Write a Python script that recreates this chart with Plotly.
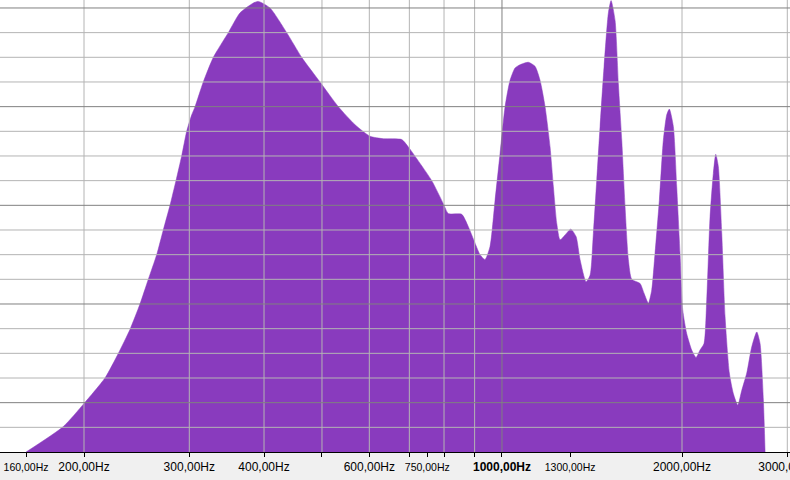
import plotly.graph_objects as go

# Spectrum data (frequency in Hz, level in dB above the plot floor)
freq_hz = [160, 184.7, 200, 216.8, 228.3, 238.7, 248.1, 256.2, 264.6, 271.4,
           278.5, 285.0, 291.3, 297.0, 302.8, 306.7, 316.6, 329.1, 348.6, 364.6,
           383.8, 391.3, 409.3, 436.5, 462.4, 496.2, 532.5, 568.0, 601.7, 633.2,
           679.8, 697.3, 729.4, 763.0, 797.9, 813.4, 856.5, 878.5, 901.4, 919.0,
           936.8, 955.0, 973.6, 992.6, 1011.9, 1031.5, 1051.6, 1072.1, 1106.9, 1135.8,
           1157.9, 1180.4, 1203.4, 1218.8, 1234.8, 1250.6, 1274.9, 1303.2, 1330.1, 1350.7,
           1382.3, 1403.8, 1421.7, 1440.5, 1458.9, 1481.5, 1506.3, 1522.0, 1545.6, 1565.4,
           1586.0, 1606.3, 1626.8, 1648.3, 1701.8, 1728.2, 1757.1, 1780.0, 1802.8, 1832.9,
           1861.3, 1885.8, 1904.8, 1934.4, 1959.6, 1984.7, 2005.4, 2036.6, 2076.2, 2110.9,
           2143.7, 2177.0, 2199.8, 2228.1, 2256.6, 2277.5, 2300.5, 2330.8, 2360.6, 2400.0,
           2437.3, 2479.0, 2517.5, 2566.4, 2616.3, 2667.2, 2701.3, 2736.0, 2754.0]
level_db = [0, 3.1, 5.9, 9.0, 12.0, 14.9, 18.0, 21.0, 24.0, 27.0,
            30.0, 33.0, 36.0, 39.0, 41.0, 42.0, 45.0, 48.0, 51.0, 53.4,
            54.6, 54.8, 54.0, 51.0, 48.0, 45.0, 42.0, 39.8, 38.4, 38.1,
            38.0, 37.1, 35.1, 33.0, 30.2, 29.0, 28.9, 27.4, 25.4, 24.0,
            23.4, 25.0, 30.6, 36.3, 42.0, 45.2, 46.7, 47.1, 47.4, 46.9,
            45.2, 42.0, 37.1, 32.3, 27.8, 25.8, 26.4, 27.1, 26.2, 23.4,
            20.7, 21.5, 26.6, 33.1, 39.6, 46.9, 53.4, 54.9, 52.5, 44.8,
            37.9, 29.8, 23.4, 21.0, 20.5, 19.3, 18.1, 19.7, 24.2, 30.6,
            37.9, 41.0, 41.7, 39.6, 32.3, 24.2, 17.3, 14.4, 12.4, 11.5,
            12.4, 13.2, 18.5, 28.6, 33.9, 36.2, 34.7, 26.6, 16.5, 9.6,
            7.1, 5.7, 7.5, 9.6, 12.8, 14.6, 13.2, 6.3, 0]

# Axis ticks and labels
tick_vals = [160, 200, 300, 400, 500, 600, 700, 750, 800, 900, 1000, 1300, 2000, 3000]
tick_text = ["<span style='font-size:10.5px'>160,00Hz</span>", "200,00Hz", "300,00Hz", "400,00Hz", "",
             "600,00Hz", "", "<span style='font-size:10.5px'>750,00Hz</span>", "", "",
             "<b>1000,00Hz</b>", "<span style='font-size:10.5px'>1300,00Hz</span>", "2000,00Hz", "3000,00Hz"]

grid_freqs_light = [200, 300, 400, 500, 600, 700, 800, 900, 2000, 3000]
grid_freqs_dark = [1000]
grid_levels_light = [3, 9, 12, 15, 21, 24, 27, 33, 36, 39, 45, 48, 51]
grid_levels_dark = [6, 18, 30, 42, 54]

X_RANGE_LOG = [2.160562, 3.481632]
Y_RANGE = [0, 54.97]

FILL = "#893BBE"
LIGHT = "#b4b4b4"
DARK = "#808080"

fig = go.Figure()
fig.add_trace(go.Scatter(
    x=freq_hz, y=level_db, mode="lines", fill="tozeroy",
    line=dict(color=FILL, width=0.5, shape="spline", smoothing=0.6), fillcolor=FILL,
    hoverinfo="skip", showlegend=False,
))

shapes = []
for f in grid_freqs_light:
    shapes.append(dict(type="line", xref="x", yref="paper", x0=f, x1=f, y0=0, y1=1,
                       line=dict(color=LIGHT, width=1), layer="above"))
for f in grid_freqs_dark:
    shapes.append(dict(type="line", xref="x", yref="paper", x0=f, x1=f, y0=0, y1=1,
                       line=dict(color=DARK, width=1), layer="above"))
for v in grid_levels_light:
    shapes.append(dict(type="line", xref="paper", yref="y", x0=0, x1=1, y0=v, y1=v,
                       line=dict(color=LIGHT, width=1), layer="above"))
for v in grid_levels_dark:
    shapes.append(dict(type="line", xref="paper", yref="y", x0=0, x1=1, y0=v, y1=v,
                       line=dict(color=DARK, width=1), layer="above"))

fig.update_layout(
    width=790, height=480, autosize=False,
    margin=dict(l=0, r=0, t=0, b=28, pad=0, autoexpand=False),
    paper_bgcolor="#f0f0f0",
    plot_bgcolor="#ffffff",
    shapes=shapes,
    font=dict(family="Liberation Sans, Arial, sans-serif", size=12, color="#000000"),
    xaxis=dict(
        type="log", range=X_RANGE_LOG, showgrid=False, zeroline=False,
        tickmode="array", tickvals=tick_vals, ticktext=tick_text,
        ticks="outside", ticklen=4, tickwidth=1, tickcolor="#000000",
        showline=True, linecolor="#000000", linewidth=1,
        tickangle=0, ticklabeloverflow="allow", layer="above traces",
        automargin=False, fixedrange=True,
    ),
    yaxis=dict(
        range=Y_RANGE, showgrid=False, zeroline=False, showticklabels=False,
        ticks="", showline=False, automargin=False, fixedrange=True,
    ),
)

fig.write_html(
    "out.html",
    config={"displayModeBar": False, "responsive": False},
    default_width="790px", default_height="480px",
    post_script="document.body.style.margin='0';document.body.style.padding='0';document.body.style.overflow='hidden';document.documentElement.style.overflow='hidden';",
)
